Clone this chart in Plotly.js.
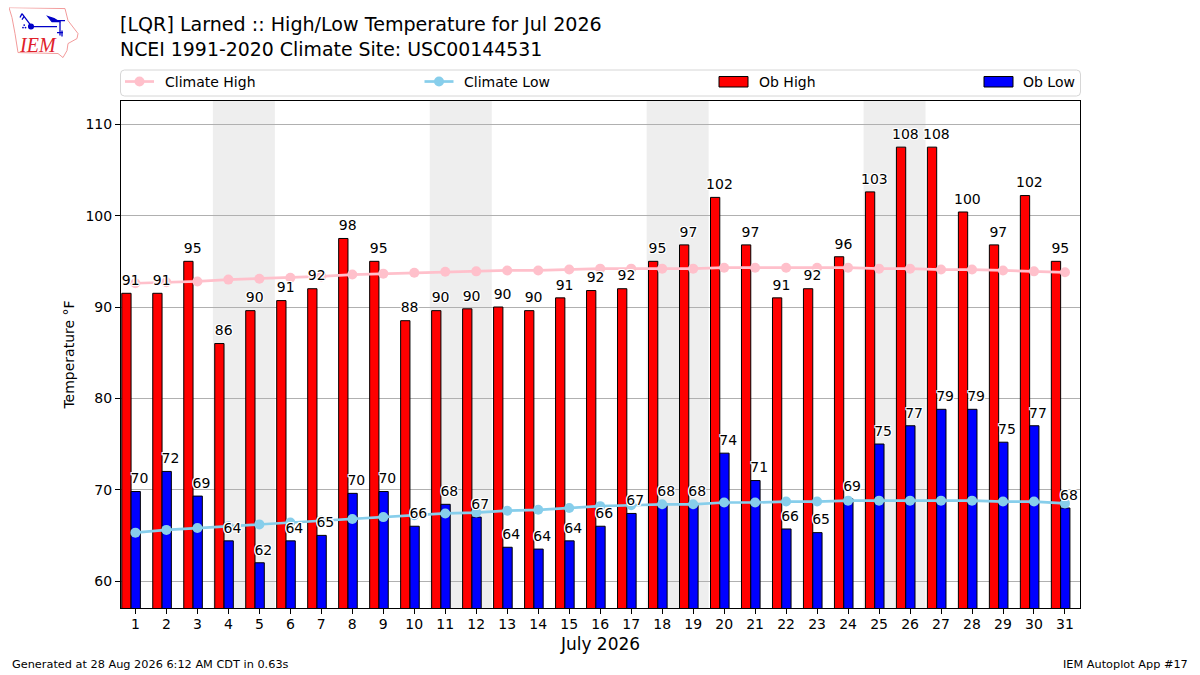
<!DOCTYPE html>
<html><head><meta charset="utf-8">
<script src="https://cdn.plot.ly/plotly-3.0.1.min.js"></script>
<style>html,body{margin:0;padding:0;background:#fff}#c{width:1200px;height:675px}</style>
</head><body><div id="c"></div>
<script>
const days=[1,2,3,4,5,6,7,8,9,10,11,12,13,14,15,16,17,18,19,20,21,22,23,24,25,26,27,28,29,30,31];
const climateHigh=[92.6,92.7,92.8,93.0,93.1,93.2,93.35,93.55,93.65,93.75,93.85,93.9,94.0,94.0,94.1,94.2,94.2,94.2,94.2,94.3,94.3,94.3,94.3,94.3,94.2,94.2,94.1,94.1,94.0,93.9,93.8];
const climateLow=[65.3,65.6,65.8,66.0,66.2,66.4,66.6,66.8,67.0,67.2,67.4,67.5,67.7,67.8,68.0,68.2,68.3,68.4,68.4,68.6,68.6,68.7,68.7,68.8,68.8,68.8,68.8,68.8,68.7,68.7,68.5];
const obHigh=[91.5,91.5,95,86,89.6,90.7,92,97.5,95,88.5,89.6,89.8,90,89.6,91,91.8,92,95,96.8,102,96.8,91,92,95.5,102.6,107.5,107.5,100.4,96.8,102.2,95];
const obLow=[69.8,72,69.3,64.4,62,64.4,65,69.6,69.8,66,68.4,67,63.7,63.5,64.4,66,67.4,68.4,68.4,74,71,65.7,65.3,69,75,77,78.8,78.8,75.2,77,68];
const highLabels=[91,91,95,86,90,91,92,98,95,88,90,90,90,90,91,92,92,95,97,102,97,91,92,96,103,108,108,100,97,102,95];
const lowLabels=[70,72,69,64,62,64,65,70,70,66,68,67,64,64,64,66,67,68,68,74,71,66,65,69,75,77,79,79,75,77,68];
const weekendSpans=[[3.5,5.5],[10.5,12.5],[17.5,19.5],[24.5,26.5]];
const titleText='[LQR] Larned :: High/Low Temperature for Jul 2026<br><span style="font-size:18.9px">NCEI 1991-2020 Climate Site: USC00144531</span>';
const FONT="DejaVu Sans, sans-serif";
const W=1200,H=675,L=121,R=1080,T=100.5,B=608;
const px=x=>(x-L)/(R-L), py=y=>(B-y)/(B-T);
const halo="-1px -1px 0 #fff,1px -1px 0 #fff,-1px 1px 0 #fff,1px 1px 0 #fff,0 1px 0 #fff,0 -1px 0 #fff,1px 0 0 #fff,-1px 0 0 #fff";
const barLine={color:"#000",width:1};
const labelTrace=(x,y,t)=>({type:"scatter",mode:"markers+text",x,y,text:t.map(String),textposition:"top center",marker:{size:6,opacity:0},showlegend:false,hoverinfo:"skip",cliponaxis:false,textfont:{family:FONT,size:14,color:"#000",shadow:halo}});
const traces=[
 {type:"bar",name:"Ob High",x:days,y:obHigh,width:0.3,offset:-0.44,marker:{color:"#ff0000",line:barLine}},
 {type:"bar",name:"Ob Low",x:days,y:obLow,width:0.3,offset:-0.14,marker:{color:"#0000ff",line:barLine}},
 {type:"scatter",mode:"lines+markers",name:"Climate High",x:days,y:climateHigh,line:{color:"#ffc0cb",width:2.7},marker:{color:"#ffc0cb",size:10}},
 {type:"scatter",mode:"lines+markers",name:"Climate Low",x:days,y:climateLow,line:{color:"#87ceeb",width:2.7},marker:{color:"#87ceeb",size:10}},
 labelTrace(days.map(d=>d-0.15),obHigh,highLabels),
 labelTrace(days.map(d=>d+0.13),obLow,lowLabels)
];
const shapes=weekendSpans.map(s=>({type:"rect",xref:"x",yref:"paper",x0:s[0],x1:s[1],y0:0,y1:1,fillcolor:"#eeeeee",line:{width:0},layer:"below"}));
const x0=px(120.5),x1=px(1080.5),y0=py(95.5),y1=py(69.5),rx=4/(R-L),ry=4/(B-T);
shapes.push({type:"path",xref:"paper",yref:"paper",layer:"below",fillcolor:"#fff",line:{color:"#d6d6d6",width:1},
 path:`M${x0+rx},${y0} L${x1-rx},${y0} Q${x1},${y0} ${x1},${y0+ry} L${x1},${y1-ry} Q${x1},${y1} ${x1-rx},${y1} L${x0+rx},${y1} Q${x0},${y1} ${x0},${y1-ry} L${x0},${y0+ry} Q${x0},${y0} ${x0+rx},${y0} Z`});
const legendY=81;
const annotations=[
 {xref:"paper",yref:"paper",x:px(10),y:py(665),xanchor:"left",yanchor:"middle",text:"Generated at 28 Aug 2026 6:12 AM CDT in 0.63s",showarrow:false,font:{family:FONT,size:11.3,color:"#000"}},
 {xref:"paper",yref:"paper",x:px(1190),y:py(665),xanchor:"right",yanchor:"middle",text:"IEM Autoplot App #17",showarrow:false,font:{family:FONT,size:11.3,color:"#000"}},
 {xref:"paper",yref:"paper",x:px(37.5),y:py(44),xanchor:"center",yanchor:"middle",text:"<i>IEM</i>",showarrow:false,font:{family:"Liberation Serif, serif",size:20,color:"#e0202a"}}
];
function legendLabel(xPos,text){annotations.push({xref:"paper",yref:"paper",x:px(xPos-2),y:py(legendY),xanchor:"left",yanchor:"middle",text,showarrow:false,font:{family:FONT,size:14,color:"#000"}});}
function legendLine(a,color){
 shapes.push({type:"line",xref:"paper",yref:"paper",x0:px(a),x1:px(a+29),y0:py(legendY),y1:py(legendY),line:{color,width:2.7},layer:"above"});
 const cx=a+14.5,r=5;
 shapes.push({type:"circle",xref:"paper",yref:"paper",x0:px(cx-r),x1:px(cx+r),y0:py(legendY-r),y1:py(legendY+r),fillcolor:color,line:{width:0},layer:"above"});
}
function legendBar(a,color){
 shapes.push({type:"rect",xref:"paper",yref:"paper",x0:px(a),x1:px(a+29),y0:py(76),y1:py(86.5),fillcolor:color,line:{color:"#000",width:1},layer:"above"});
}
legendLine(125,"#ffc0cb");legendLabel(165,"Climate High");
legendLine(424.5,"#87ceeb");legendLabel(464,"Climate Low");
legendBar(719,"#ff0000");legendLabel(759,"Ob High");
legendBar(984,"#0000ff");legendLabel(1022.5,"Ob Low");
const logoSvg=`<svg xmlns="http://www.w3.org/2000/svg" width="210" height="156" viewBox="-1 -1 70 52"><path d="M-1 -1 L55 0 L58 12 L68 25 L67 30 L58 35 L57 42 L53 49 L48 45 L8 44 L5 25 L2 9 Z" fill="#fff" stroke="#f09090" stroke-width="0.9"/><g stroke="#0000c8" fill="#0000c8" stroke-width="1.3"><path d="M21 18 H47 M12 5 L21 17 M12 5 L10 9 M14 8 L12 11" fill="none"/><circle cx="21" cy="18" r="2.4"/><path d="M38 8 L44 10 L49 13 L42 13 Z"/><path d="M42 12 H55 M50 12 V27 M47 24 H53 M52 22 V28" fill="none"/></g><g fill="#0000c8"><circle cx="13" cy="19" r="0.9"/><circle cx="15.5" cy="19" r="0.9"/><circle cx="14.2" cy="16.5" r="0.9"/></g></svg>`;
const layout={
 width:W,height:H,margin:{l:L,r:W-R,t:T,b:H-B,pad:0},autosize:false,paper_bgcolor:"#fff",plot_bgcolor:"#fff",
 font:{family:FONT,size:14,color:"#000"},barmode:"overlay",showlegend:false,
 title:{text:titleText,x:120/W,xref:"container",xanchor:"left",y:1-31/H,yanchor:"top",yref:"container",font:{family:FONT,size:19.1,color:"#000"},automargin:false},
 xaxis:{range:[0.535,31.485],tickmode:"array",tickvals:days,ticktext:days.map(String),ticks:"outside",ticklen:5,ticklabelstandoff:-2,tickcolor:"#000",tickwidth:1,showline:true,linecolor:"#000",linewidth:1,mirror:true,showgrid:false,zeroline:false,tickfont:{size:14},title:{text:"July 2026",font:{size:17},standoff:7}},
 yaxis:{range:[57.05,112.55],tickmode:"array",tickvals:[60,70,80,90,100,110],ticks:"outside",ticklen:5,tickcolor:"#000",tickwidth:1,showline:true,linecolor:"#000",linewidth:1,mirror:true,showgrid:true,gridcolor:"#b0b0b0",gridwidth:1,zeroline:false,tickfont:{size:14},title:{text:"Temperature °F",font:{size:14},standoff:7}},
 shapes,annotations,
 images:[{source:"data:image/svg+xml;utf8,"+encodeURIComponent(logoSvg),xref:"paper",yref:"paper",x:px(9),y:py(7),sizex:70/(R-L),sizey:52/(B-T),xanchor:"left",yanchor:"top",sizing:"stretch",layer:"above"}]
};
Plotly.newPlot("c",traces,layout,{displayModeBar:false,staticPlot:true});
</script></body></html>
